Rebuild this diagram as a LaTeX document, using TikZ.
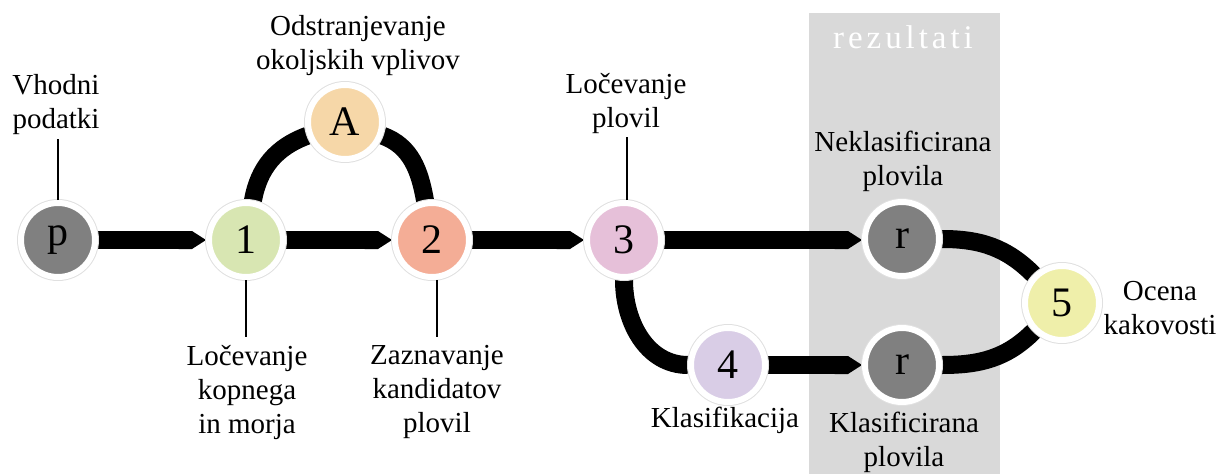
\documentclass[tikz,border=0pt]{standalone}
\usepackage{fontspec}
\setmainfont{Liberation Serif}
\newfontfamily\spacedserif[LetterSpace=12]{Liberation Serif}
\usetikzlibrary{arrows.meta}
\pgfdeclarelayer{band}
\pgfdeclarelayer{background}
\pgfsetlayers{band,background,main}

\definecolor{bandgray}{RGB}{217,217,217}
\definecolor{stonegray}{RGB}{128,128,128}
\definecolor{stageA}{RGB}{246,215,168}
\definecolor{stageone}{RGB}{216,230,178}
\definecolor{stagetwo}{RGB}{244,173,150}
\definecolor{stagethree}{RGB}{230,192,217}
\definecolor{stagefour}{RGB}{217,205,230}
\definecolor{stagefive}{RGB}{239,239,170}

\begin{document}
\begin{tikzpicture}[x=1pt,y=1pt,
  stage/.style={circle, minimum size=74pt, inner sep=0pt, draw=white,
    line width=6pt, preaction={draw=black!12, line width=8pt},
    font=\fontsize{42}{42}\selectfont},
  flow/.style={line width=18pt, -{Triangle Cap[length=14pt]}},
  link/.style={line width=18pt},
  caption/.style={align=center, inner sep=0pt, font=\fontsize{29}{34}\selectfont},
  tick/.style={line width=1.3pt}]

\useasboundingbox (0,0) rectangle (1221,-474);

% results band
\begin{pgfonlayer}{band}
  \fill[bandgray] (809,-13) rectangle (1000,-474);
\end{pgfonlayer}
\node[anchor=base, text=white, font=\fontsize{33}{36}\spacedserif] (rez) at (903,-48) {rezultati};

% processing stages
\node[stage, fill=stonegray] (p)  at (58,-240)   {p};
\node[stage, fill=stageone]  (n1) at (246,-240)  {1};
\node[stage, fill=stageA]    (nA) at (345,-122)  {A};
\node[stage, fill=stagetwo]  (n2) at (432,-240)  {2};
\node[stage, fill=stagethree](n3) at (624,-240)  {3};
\node[stage, fill=stagefour] (n4) at (728,-365)  {4};
\node[stage, fill=stonegray] (rt) at (902,-239)  {r};
\node[stage, fill=stonegray] (rb) at (902,-365)  {r};
\node[stage, fill=stagefive] (n5) at (1062,-303) {5};

% captions
\node[caption] (lp)  at (56,-105)   {Vhodni\\podatki};
\node[caption] (lA)  at (358,-46)   {Odstranjevanje\\okoljskih vplivov};
\node[caption] (l3)  at (626,-103)  {Ločevanje\\plovil};
\node[caption] (l1)  at (247,-392)  {Ločevanje\\kopnega\\in morja};
\node[caption] (l2)  at (437,-392)  {Zaznavanje\\kandidatov\\plovil};
\node[caption] (l4)  at (725,-420)  {Klasifikacija};
\node[caption] (lrt) at (903,-161)  {Neklasificirana\\plovila};
\node[caption] (lrb) at (904,-442)  {Klasificirana\\plovila};
\node[caption] (l5)  at (1160,-308) {Ocena\\kakovosti};

% caption ticks
\draw[tick] (p.north) -- ([yshift=-4pt]p.north |- lp.south);
\draw[tick] ([xshift=3pt]n3.north) -- ([xshift=3pt,yshift=-4pt]n3.north |- l3.south);
\draw[tick] (n1.south) -- ([yshift=8pt]n1.south |- l1.north);
\draw[tick] ([xshift=5pt]n2.south) -- ([xshift=5pt,yshift=8pt]n2.south |- l2.north);

% connectors
\begin{pgfonlayer}{background}
  \draw[link] (n1) to[out=80,in=200] (nA);
  \draw[link] (nA) to[out=-20,in=100] (n2);
  \draw[link] (n3) to[out=-90,in=180] (n4);
  \draw[link] (rt) to[out=0,in=135] (n5);
  \draw[link] (rb) to[out=0,in=-135] (n5);
  \draw[flow] (p) -- (n1);
  \draw[flow] (n1) -- (n2);
  \draw[flow] (n2) -- (n3);
  \draw[flow] (n3) -- (n3 -| rt.west);
  \draw[flow] (n4) -- (rb);
\end{pgfonlayer}
\end{tikzpicture}
\end{document}
